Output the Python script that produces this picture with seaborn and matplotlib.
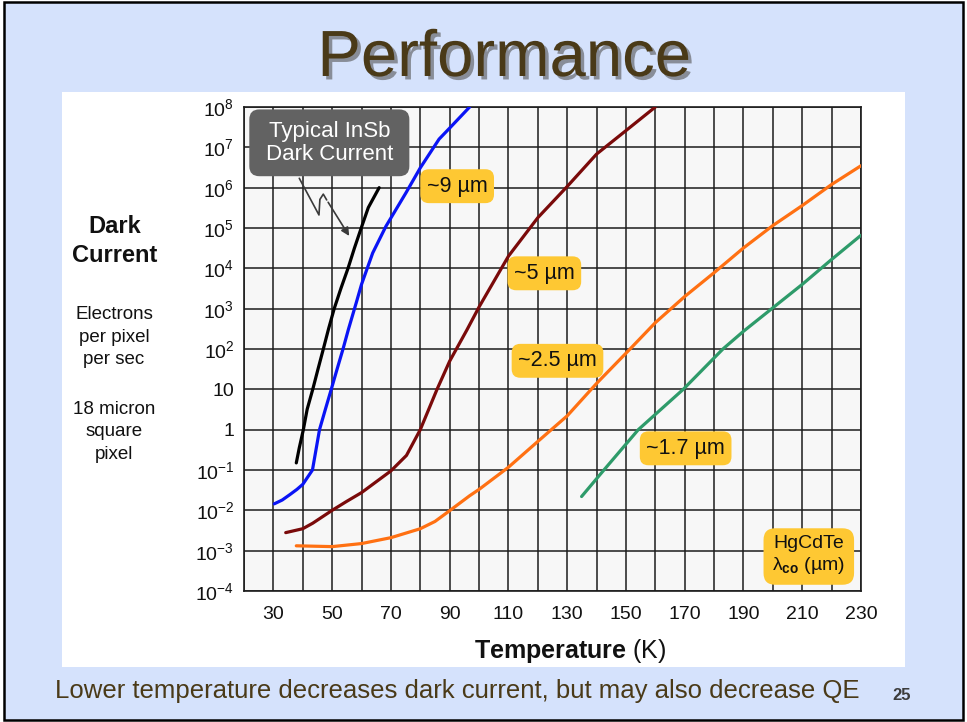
import pandas as pd
import matplotlib
matplotlib.use('Agg')
import matplotlib.pyplot as plt
import matplotlib.patheffects as pe
from matplotlib import font_manager
from matplotlib.patches import Rectangle, FancyBboxPatch
from matplotlib.ticker import NullLocator
import seaborn as sns

# values: temperature (K) vs dark current (e-/pixel/s)
insb_T = [37.8, 38.8, 40.2, 41.5, 43.4, 45.2, 47.0, 48.8, 50.7, 53.0, 55.4, 57.6, 59.9, 62.3, 66.0]
insb_dc = [0.15, 0.35, 1, 3.2, 10, 32, 100, 320, 1e3, 3.2e3, 1e4, 3.2e4, 1e5, 3.2e5, 1e6]

um9_T = [30.3, 33, 35.6, 38, 40, 42.2, 43.3, 45.7, 47.7, 49.7, 51.7, 53.7, 55.5, 58.2, 60,
         63.8, 68.3, 75.1, 80, 86.4, 90, 96.8]
um9_dc = [0.0145, 0.018, 0.0245, 0.033, 0.044, 0.076, 0.1, 1, 3.2, 10, 32, 100, 300, 1.4e3, 4.0e3,
          2.4e4, 1.1e5, 7.4e5, 3.1e6, 1.6e7, 3.0e7, 1e8]

um5_T = [34.2, 40, 43.4, 50, 54.9, 60, 70, 75.3, 80, 85.7, 90, 95.9, 100, 110, 120, 130, 140, 150, 160]
um5_dc = [2.8e-3, 3.5e-3, 4.8e-3, 1e-2, 1.66e-2, 2.75e-2, 9.5e-2, 0.23, 1, 10, 50, 300, 1.1e3,
          2e4, 1.8e5, 1.07e6, 6.8e6, 2.6e7, 1e8]

um25_T = [37.8, 50, 60, 70, 80, 85, 90, 96.8, 100, 110, 120, 130, 140, 151.4, 160, 170, 180, 190,
          200, 210, 220, 230]
um25_dc = [1.32e-3, 1.26e-3, 1.5e-3, 2.1e-3, 3.5e-3, 5.3e-3, 9.8e-3, 2.3e-2, 3.3e-2, 0.117, 0.51,
           2.2, 14, 100, 450, 2.0e3, 7.8e3, 3.2e4, 1.15e5, 3.6e5, 1.2e6, 3.5e6]

um17_T = [134.9, 142.5, 154.2, 169.5, 183, 190, 200, 210, 220, 230]
um17_dc = [0.022, 0.1, 1, 10, 100, 275, 1050, 4000, 1.66e4, 6.6e4]

curve_names = ['InSb', '9um', '5um', '2.5um', '1.7um']
curve_colors = ['#000000', '#0A14F5', '#7A0A0A', '#FF7012', '#2E9B6A']

xtick_vals = list(range(30, 231, 20))
ytick_exp = list(range(-4, 9))
ytick_labels = [r'$\mathregular{10^{%d}}$' % k if k not in (0, 1) else ('1' if k == 0 else '10')
                for k in ytick_exp]

# long table for seaborn
frames = []
for name, T, dc in zip(curve_names,
                       [insb_T, um9_T, um5_T, um25_T, um17_T],
                       [insb_dc, um9_dc, um5_dc, um25_dc, um17_dc]):
    frames.append(pd.DataFrame({'T': T, 'dc': dc, 'curve': name}))
df = pd.concat(frames, ignore_index=True)

sns.set_theme(style='white')
plt.rcParams['font.family'] = ['Liberation Sans', 'DejaVu Sans']
plt.rcParams['mathtext.fontset'] = 'custom'
plt.rcParams['mathtext.rm'] = 'Liberation Sans'
plt.rcParams['mathtext.bf'] = 'Liberation Sans:bold'
plt.rcParams['mathtext.it'] = 'Liberation Sans:italic'

installed = {f.name for f in font_manager.fontManager.ttflist}
has_narrow = 'Liberation Sans Narrow' in installed
slide_font = ['Liberation Sans Narrow', 'Liberation Sans'] if has_narrow else ['Liberation Sans']
title_size = 53 if has_narrow else 47
foot_size = 21.5 if has_narrow else 18.5

W, H = 967, 722
fig = plt.figure(figsize=(W / 100, H / 100), dpi=100, facecolor='white')

# slide background + white panel
fig.patches.append(Rectangle((0.004, 0.003), 0.992, 0.994, transform=fig.transFigure,
                             fc='#D5E2FC', ec='black', lw=1.8, zorder=-10))
fig.patches.append(Rectangle((62 / W, 1 - 667 / H), (905 - 62) / W, (667 - 92) / H,
                             transform=fig.transFigure, fc='white', ec='none', zorder=-9))

ax = fig.add_axes([244 / W, 1 - 591 / H, (861 - 244) / W, (591 - 107) / H])
ax.set_facecolor('#F7F7F7')
ax.set_yscale('log')

sns.lineplot(data=df, x='T', y='dc', hue='curve', hue_order=curve_names,
             palette=dict(zip(curve_names, curve_colors)), sort=False, estimator=None,
             lw=2.3, legend=False, ax=ax, zorder=3)

ax.set_xlim(20, 230)
ax.set_ylim(1e-4, 1e8)
ax.set_xticks(xtick_vals)
ax.set_xticklabels([str(v) for v in xtick_vals])
ax.set_xticks(range(20, 231, 10), minor=True)
ax.set_yticks([10.0 ** k for k in ytick_exp])
ax.set_yticklabels(ytick_labels)
ax.yaxis.set_minor_locator(NullLocator())
ax.grid(True, which='both', color='#1c1c1c', lw=1.1, zorder=1)
ax.set_axisbelow(True)
ax.tick_params(which='both', length=0, labelsize=14, colors='#111111')
ax.tick_params(axis='y', pad=7)
ax.tick_params(axis='x', pad=11)
ax.set_xlabel('')
ax.set_ylabel('')
for s in ax.spines.values():
    s.set_color('#1c1c1c')
    s.set_linewidth(1.2)

# wavelength tags
tag_style = dict(boxstyle='round,pad=0.3,rounding_size=0.4', fc='#FEC833', ec='none')
for txt, xf, yf in [('~9 µm', 0.3455, 0.8364), ('~5 µm', 0.4868, 0.6564),
                    ('~2.5 µm', 0.5081, 0.4756), ('~1.7 µm', 0.7158, 0.2948)]:
    ax.text(xf, yf, txt, transform=ax.transAxes, ha='center', va='center',
            fontsize=15.5, color='#111111', bbox=tag_style, zorder=5)
ax.text(0.9154, 0.0733, 'HgCdTe\n' + r'$\mathregular{λ_{\mathbf{co}}}$ (µm)',
        transform=ax.transAxes, ha='center', va='center', fontsize=14, color='#111111',
        linespacing=1.2, zorder=5,
        bbox=dict(boxstyle='round,pad=0.45,rounding_size=0.6', fc='#FEC833', ec='none'))

# InSb callout
ax.add_patch(FancyBboxPatch((0.0086, 0.857), 0.2594, 0.138, transform=ax.transAxes,
                            boxstyle='round,pad=0,rounding_size=0.0162', mutation_aspect=1.275,
                            fc='#626262', ec='none', zorder=5, clip_on=False))
ax.text(0.1383, 0.9262, 'Typical InSb\nDark Current', transform=ax.transAxes, ha='center',
        va='center', fontsize=16, color='white', linespacing=1.15, zorder=6)
ax.plot([0.0896, 0.1215, 0.1230, 0.1285, 0.1340], [0.8527, 0.7769, 0.8090, 0.8200, 0.8080],
        transform=ax.transAxes, color='#3a3a3a', lw=1.2, zorder=4)
ax.annotate('', xy=(0.1729, 0.7287), xytext=(0.1340, 0.8080), xycoords='axes fraction',
            arrowprops=dict(arrowstyle='-|>', color='#3a3a3a', lw=1.2, mutation_scale=12),
            zorder=4)

# slide text
brown = '#4A3A18'
shadow = [pe.SimplePatchShadow(offset=(2.5, -2.5), shadow_rgbFace='#555555', alpha=0.6),
          pe.Normal()]
fig.text(0.5212, 0.9183, 'Performance', ha='center', va='center', fontsize=title_size,
         family=slide_font, color=brown, path_effects=shadow)
fig.text(0.4731, 0.0429, 'Lower temperature decreases dark current, but may also decrease QE',
         ha='center', va='center', fontsize=foot_size, family=slide_font, color=brown)
fig.text(0.9328, 0.037, '25', ha='center', va='center', fontsize=12, fontweight='bold',
         family=slide_font, color='#3c3c3c')

fig.text(0.119, 0.666, 'Dark\nCurrent', ha='center', va='center', fontsize=17,
         fontweight='bold', color='#111111', linespacing=1.3)
fig.text(0.118, 0.5332, 'Electrons\nper pixel\nper sec', ha='center', va='center',
         fontsize=13.5, color='#111111', linespacing=1.4)
fig.text(0.118, 0.4017, '18 micron\nsquare\npixel', ha='center', va='center',
         fontsize=13.5, color='#111111', linespacing=1.4)
fig.text(570 / W, 1 - 651 / H, r'$\mathbf{Temperature}$ (K)', ha='center', va='center',
         fontsize=18, color='#111111')

fig.savefig('out.png', dpi=100)
